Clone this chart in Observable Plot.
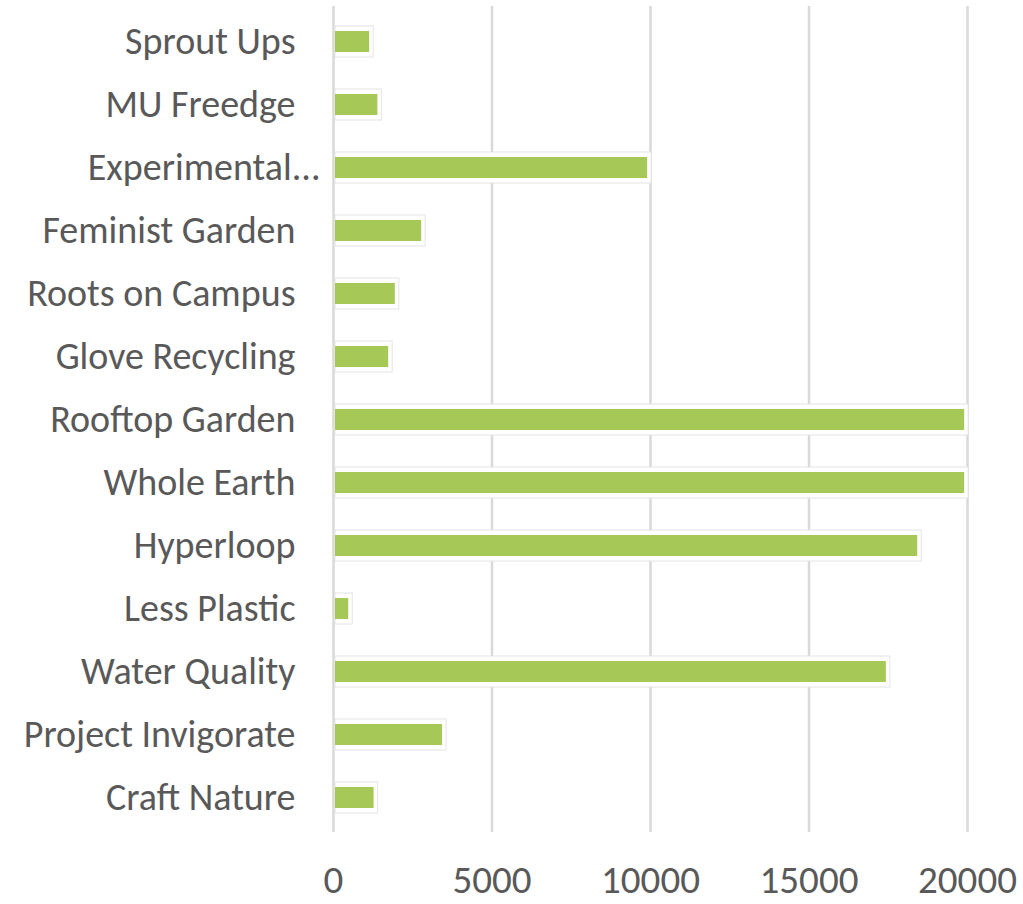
<!DOCTYPE html>
<html>
<head>
<meta charset="utf-8">
<script src="https://cdn.jsdelivr.net/npm/d3@7"></script>
<script src="https://cdn.jsdelivr.net/npm/@observablehq/plot@0.6"></script>
<style>
  html, body { margin: 0; padding: 0; background: #fff; }
  #chart { width: 1023px; height: 904px; }
</style>
</head>
<body>
<div id="chart"></div>
<script>
const categories = [
  "Sprout Ups", "MU Freedge", "Experimental...", "Feminist Garden", "Roots on Campus",
  "Glove Recycling", "Rooftop Garden", "Whole Earth", "Hyperloop", "Less Plastic",
  "Water Quality", "Project Invigorate", "Craft Nature"
];
const values = [1140, 1400, 9910, 2780, 1950, 1740, 19910, 19910, 18430, 480, 17440, 3440, 1280];
const xTicks = [0, 5000, 10000, 15000, 20000];

const data = categories.map((c, i) => ({ name: c, value: values[i] }));
const font = "Calibri, Carlito, Lato, sans-serif";
const textColor = "#595959";

const chart = Plot.plot({
  width: 1023,
  height: 904,
  marginLeft: 333,
  marginRight: 56,
  marginTop: 6,
  marginBottom: 72,
  style: { fontFamily: font, background: "#fff", overflow: "visible" },
  x: { domain: [0, 20000], label: null },
  y: { domain: categories, paddingInner: 0.67, paddingOuter: 0.335, label: null },
  marks: [
    Plot.ruleX(xTicks, { stroke: "#d9d9d9", strokeWidth: 2.5 }),
    Plot.barX(data, {
      x: "value", y: "name", fill: "#fff", stroke: "#e4e4e4", strokeWidth: 1,
      insetTop: -5, insetBottom: -5, insetRight: -4, insetLeft: 2
    }),
    Plot.barX(data, { x: "value", y: "name", fill: "#a5c856", insetLeft: 2 }),
    Plot.axisX(xTicks, {
      tickSize: 0, tickPadding: 33, fontSize: 39, fill: textColor,
      tickFormat: d => String(d), label: null
    }),
    Plot.axisY({
      tickSize: 0, tickPadding: 38, fontSize: 38, fill: textColor, label: null,
      tickFormat: d => d === "Experimental..." ? "" : d
    }),
    Plot.text(data.filter(d => d.name === "Experimental..."), {
      x: 0, y: "name", text: "name", textAnchor: "end", dx: -13,
      fontSize: 38, fill: textColor
    })
  ]
});
document.getElementById("chart").append(chart);
</script>
</body>
</html>
